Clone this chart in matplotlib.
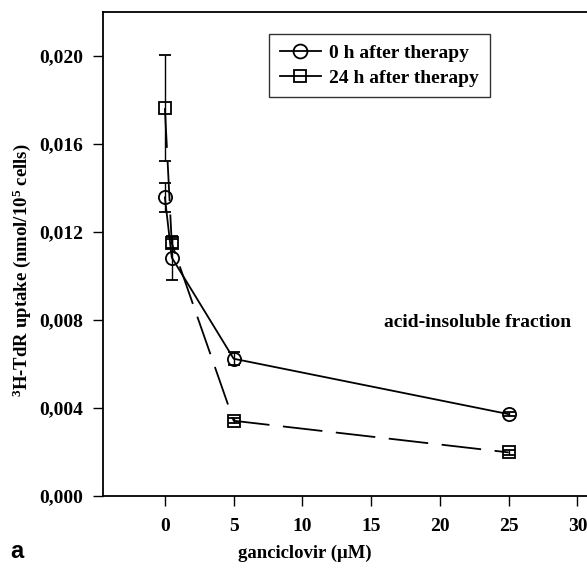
import matplotlib
matplotlib.use('Agg')
import matplotlib.pyplot as plt
from matplotlib.lines import Line2D
from matplotlib.ticker import FuncFormatter

# ganciclovir concentration (uM)
dose = [0, 0.5, 5, 25]

# 3H-TdR uptake, acid-insoluble fraction
uptake_0h = [0.01357, 0.01084, 0.00624, 0.00372]
err_0h = [0.00066, 0.00100, 0.00030, 0.00010]

uptake_24h = [0.01763, 0.01148, 0.00342, 0.00198]
err_24h = [0.00240, 0.00022, 0.00012, 0.00010]

x_ticks = [0, 5, 10, 15, 20, 25, 30]
y_ticks = [0.000, 0.004, 0.008, 0.012, 0.016, 0.020]

plt.rcParams['font.family'] = ['Liberation Serif', 'DejaVu Serif']
plt.rcParams['font.weight'] = 'bold'
plt.rcParams['mathtext.fontset'] = 'custom'
plt.rcParams['mathtext.rm'] = 'Liberation Serif:bold'
plt.rcParams['mathtext.it'] = 'Liberation Serif:bold'
plt.rcParams['mathtext.bf'] = 'Liberation Serif:bold'


def main():
    fig = plt.figure(figsize=(5.87, 5.72), dpi=100)
    ax = fig.add_axes([103 / 587, 1 - 496 / 572, 502 / 587, 484 / 572])

    ax.errorbar(dose, uptake_0h, yerr=err_0h, color='black', lw=1.3,
                marker='o', ms=9.5, mfc='none', mec='black', mew=1.3,
                ecolor='black', elinewidth=1.0, capsize=4.5, capthick=1.0)
    ax.errorbar(dose, uptake_24h, yerr=err_24h, color='black', lw=1.3,
                ls=(0, (22, 7.5)), marker='s', ms=8, mfc='none', mec='black',
                mew=1.3, ecolor='black', elinewidth=1.0, capsize=4.5,
                capthick=1.0)

    ax.set_xlim(-4.5, 32)
    ax.set_ylim(0, 0.022)
    ax.set_xticks(x_ticks)
    ax.set_yticks(y_ticks)
    ax.yaxis.set_major_formatter(FuncFormatter(lambda v, p: f'{v:.3f}'.replace('.', ',')))
    ax.tick_params(axis='x', direction='out', length=7, width=1.0, pad=9, labelsize=14)
    ax.tick_params(axis='y', direction='out', length=7.5, width=1.0, pad=7, labelsize=14)
    for s in ax.spines.values():
        s.set_linewidth(1.3)

    ax.text(22.7, 0.00788, 'acid-insoluble fraction', ha='center', va='center',
            fontsize=14, fontweight='bold')

    handles = [
        Line2D([], [], color='black', lw=1.3, marker='o', ms=10, mfc='none', mew=1.3),
        Line2D([], [], color='black', lw=1.3, marker='s', ms=8.5, mfc='none', mew=1.3),
    ]
    leg = ax.legend(handles, ['0 h after therapy', '24 h after therapy'],
                    loc='upper left', bbox_to_anchor=((269 - 103) / 502, 1 - (34 - 12) / 484),
                    fontsize=14, frameon=True, fancybox=False, edgecolor='black',
                    handlelength=2.1, handletextpad=0.45, borderpad=0.55, labelspacing=0.35,
                    borderaxespad=0)
    leg.get_frame().set_linewidth(1.0)

    fig.text(305 / 587, 1 - 553 / 572, 'ganciclovir (\u03bcM)', ha='center', va='center',
             fontsize=13.5, fontweight='bold')
    fig.text(22 / 587, 1 - 270 / 572, r'$^{3}$H-TdR uptake (nmol/10$^{5}$ cells)',
             ha='center', va='center', rotation=90, fontsize=13.5, fontweight='bold')
    fig.text(17 / 587, 1 - 552 / 572, 'a', ha='center', va='center', fontsize=17,
             fontweight='bold', family='Liberation Sans')

    fig.savefig('out.png', dpi=100)


if __name__ == '__main__':
    main()
